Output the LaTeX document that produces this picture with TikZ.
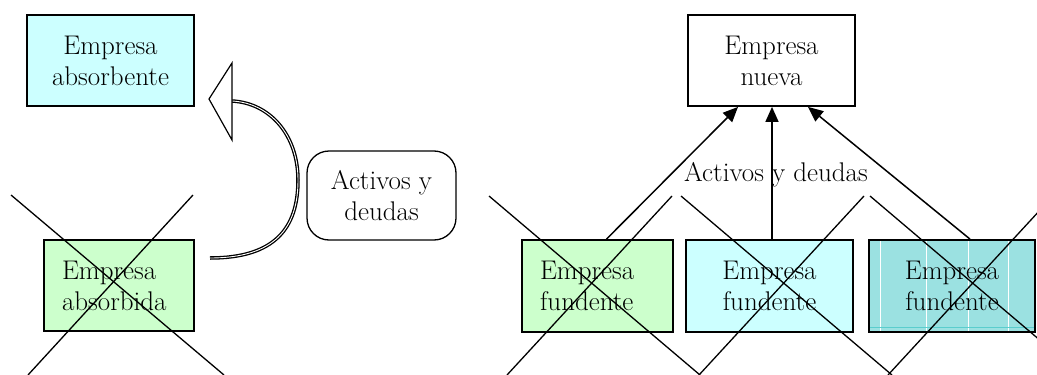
\documentclass[tikz,border=0pt]{standalone}
\usepackage{fontspec}
\usepackage{tikz}
\usetikzlibrary{calc, positioning, shapes, arrows.meta}
\usepackage{amsmath}
\definecolor{cyanbox}{RGB}{204,255,255}
\definecolor{greenbox}{RGB}{204,255,204}
\definecolor{tealbox}{RGB}{155,225,225}
\definecolor{tealline}{RGB}{90,205,205}

\tikzset{
  caja/.style={draw, line width=1.8pt, minimum height=91pt, align=center, inner sep=0pt,
    font=\fontsize{27}{31}\selectfont},
  cajaizq/.style={caja, align=left, text width=#1, inner xsep=18pt},
  cruz/.style={line width=1.3pt},
  flecha/.style={line width=1.5pt, -{Triangle[length=15pt,width=13pt]}},
  etiqueta/.style={font=\fontsize{27}{31}\selectfont, align=center}
}

\begin{document}
\begin{tikzpicture}[x=1pt,y=-1pt]
\useasboundingbox (0,0) rectangle (1037,375);
\clip (0,0) rectangle (1037,375);

\node[caja, fill=cyanbox, minimum width=167pt] (absorbente) at (110.5,60.5) {Empresa\\absorbente};
\node[cajaizq=114pt, fill=greenbox] (absorbida) at (119,285.5) {Empresa\\absorbida};
\node[draw, line width=1.3pt, rounded corners=22pt, minimum width=149pt, minimum height=89pt,
  etiqueta] (activos) at (381.5,195.5) {Activos y\\deudas};

\coordinate (curvaini) at (210,258);
\coordinate (curvafin) at (232,101);
\coordinate (puntaizq) at (209,99);
\draw[line width=1.3pt, double=white, double distance=0.9pt] (curvaini)
  .. controls (275,258) and (298,228) .. (298,180)
  .. controls (298,135) and (270,103) .. (curvafin);
\draw[line width=1.2pt, fill=white, line join=miter] (puntaizq) -- (232,63) -- (232,140) -- cycle;

\draw[cruz] (11,195) -- (224,375);
\draw[cruz] (193,195) -- (28,375);

\node[caja, fill=white, minimum width=167pt] (nueva) at (771.5,60.5) {Empresa\\nueva};
\node[cajaizq=115pt, fill=greenbox, minimum height=92pt] (fundente1) at (597.5,286) {Empresa\\fundente};
\node[caja, fill=cyanbox, minimum width=167pt, minimum height=92pt] (fundente2) at (769.5,286) {Empresa\\fundente};
\node[caja, fill=tealbox, minimum width=166pt, minimum height=92pt,
  path picture={
    \foreach \dx in {11,57,99,139}
      \draw[white, line width=0.8pt] ([xshift=\dx pt]path picture bounding box.north west)
        -- ([xshift=\dx pt]path picture bounding box.south west);
    \draw[tealline, line width=0.8pt] ([yshift=5pt]path picture bounding box.south west)
      -- ([yshift=5pt]path picture bounding box.south east);
  }] (fundente3) at (952,286) {Empresa\\fundente};

\draw[flecha] ([xshift=9pt]fundente1.north) -- ([xshift=-33.5pt]nueva.south);
\draw[flecha] ([xshift=2.5pt]fundente2.north) -- ([xshift=0.5pt]nueva.south);
\draw[flecha] ([xshift=18pt]fundente3.north) -- ([xshift=36.5pt]nueva.south);

\node[etiqueta] (activosder) at (776,175) {Activos y deudas};

\draw[cruz] (489,196) -- (700,375);
\draw[cruz] (672,196) -- (507,375);
\draw[cruz] (681,196) -- (892,375);
\draw[cruz] (864,196) -- (699,375);
\draw[cruz] (870,196) -- (1081,375);
\draw[cruz] (1053,196) -- (888,375);
\end{tikzpicture}
\end{document}
